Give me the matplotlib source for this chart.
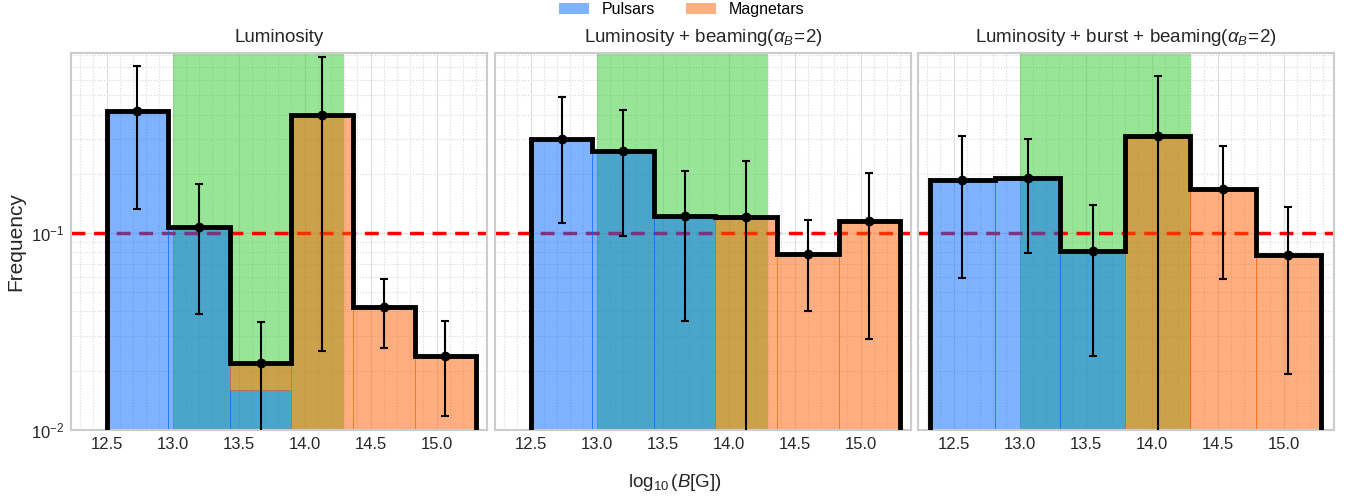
import numpy as np
import matplotlib
matplotlib.use("Agg")
import matplotlib.pyplot as plt
from matplotlib.patches import Patch

plt.rcParams['font.family'] = ['Liberation Sans', 'DejaVu Sans']
plt.rcParams['mathtext.fontset'] = 'custom'
plt.rcParams['mathtext.rm'] = 'Liberation Sans'
plt.rcParams['mathtext.it'] = 'Liberation Sans:italic'

# panel titles
titles = ["Luminosity",
          r"Luminosity + beaming($\alpha_B\!=\!2$)",
          r"Luminosity + burst + beaming($\alpha_B\!=\!2$)"]

# bin edges of log10(B) for each panel
edges_lum = [12.5, 12.967, 13.433, 13.9, 14.367, 14.833, 15.3]
edges_beam = [12.5, 12.967, 13.433, 13.9, 14.367, 14.833, 15.3]
edges_burst = [12.32, 12.813, 13.307, 13.8, 14.293, 14.787, 15.28]

# stacked fractions (pulsars at the bottom, magnetars on top)
puls_lum = [0.418, 0.1076, 0.016, 0, 0, 0]
mag_lum = [0, 0, 0.006, 0.40, 0.042, 0.0238]
puls_beam = [0.30, 0.26, 0.122, 0, 0, 0]
mag_beam = [0, 0, 0, 0.12, 0.0786, 0.115]
puls_burst = [0.186, 0.191, 0.0813, 0, 0, 0]
mag_burst = [0, 0, 0, 0.312, 0.167, 0.0773]

# error bar limits on the total
err_hi_lum = [0.706, 0.177, 0.0352, 0.78, 0.0582, 0.0359]
err_lo_lum = [0.133, 0.0387, 0.001, 0.0252, 0.0262, 0.0118]
err_hi_beam = [0.49, 0.42, 0.207, 0.233, 0.117, 0.202]
err_lo_beam = [0.113, 0.097, 0.0356, 0.001, 0.0404, 0.0288]
err_hi_burst = [0.312, 0.30, 0.139, 0.627, 0.277, 0.136]
err_lo_burst = [0.0589, 0.0794, 0.0236, 0.001, 0.0582, 0.0192]

# observed range of B (green band) and reference level
band = [13.0, 14.3]
ref_level = 0.1

panels = [
    (edges_lum, puls_lum, mag_lum, err_lo_lum, err_hi_lum),
    (edges_beam, puls_beam, mag_beam, err_lo_beam, err_hi_beam),
    (edges_burst, puls_burst, mag_burst, err_lo_burst, err_hi_burst),
]

blue = '#0066ff'
orange = '#ff5e00'
green = 'limegreen'

fig = plt.figure(figsize=(13.5, 4.97), dpi=100)
lefts = [0.0526, 0.3667, 0.680]
width = 0.308
axes = []
for i, (edges, puls, mag, lo, hi) in enumerate(panels):
    ax = fig.add_axes([lefts[i], 0.135, width, 0.758])
    axes.append(ax)
    edges = np.array(edges)
    puls = np.array(puls, dtype=float)
    mag = np.array(mag, dtype=float)
    total = puls + mag
    w = np.diff(edges)
    centers = edges[:-1] + w / 2

    ax.set_yscale('log')
    ax.axvspan(band[0], band[1], color=green, alpha=0.5, lw=0, zorder=1)
    ax.axhline(ref_level, color='red', ls='--', lw=2.5, dashes=(4, 2.5), zorder=1.5)

    pb = np.where(puls > 0, puls, np.nan)
    ax.bar(edges[:-1], pb, width=w, align='edge', bottom=1e-5,
           color=blue, alpha=0.5, edgecolor=blue, lw=0.7, zorder=2)
    mb = np.where(puls > 0, puls, 1e-5)
    mh = np.where(mag > 0, total - mb, np.nan)
    ax.bar(edges[:-1], mh, width=w, align='edge', bottom=mb,
           color=orange, alpha=0.5, edgecolor=orange, lw=0.7, zorder=2)

    ax.stairs(total, edges, baseline=1e-5, color='black', lw=3.5, zorder=3)
    lo = np.array(lo)
    hi = np.array(hi)
    ax.errorbar(centers, total, yerr=[total - lo, hi - total], fmt='o',
                color='black', ms=6, elinewidth=1.5, capsize=3, capthick=1.5,
                zorder=4)

    ax.set_xlim(12.23, 15.38)
    ax.set_ylim(0.01, 0.82)
    ax.set_xticks([12.5, 13.0, 13.5, 14.0, 14.5, 15.0])
    ax.set_xticks(np.arange(12.3, 15.4, 0.1), minor=True)
    ax.grid(which='major', color='#e0e0e0', lw=0.9, ls='-', zorder=0)
    ax.grid(which='minor', color='#d8d8d8', lw=0.8, ls=':', zorder=0)
    ax.set_axisbelow(True)
    ax.tick_params(which='both', length=0, labelsize=12, colors='#262626', pad=5)
    for s in ax.spines.values():
        s.set_color('#cccccc')
        s.set_linewidth(1.5)
    ax.set_title(titles[i], fontsize=13.5, color='#262626', pad=8)
    if i > 0:
        ax.tick_params(axis='y', which='both', labelleft=False)

axes[0].set_ylabel("Frequency", fontsize=15, color='#262626')
fig.text(0.5, 0.03, r"$\log_{10}(B[\mathrm{G}])$", ha='center', va='center',
         fontsize=13.5, color='#262626')

handles = [Patch(facecolor=blue, alpha=0.5, label='Pulsars'),
           Patch(facecolor=orange, alpha=0.5, label='Magnetars')]
fig.legend(handles=handles, loc='upper center', bbox_to_anchor=(0.505, 1.025),
           ncol=2, frameon=False, fontsize=11.5, handlelength=1.9,
           columnspacing=1.9)

fig.savefig("out.png", dpi=100)
